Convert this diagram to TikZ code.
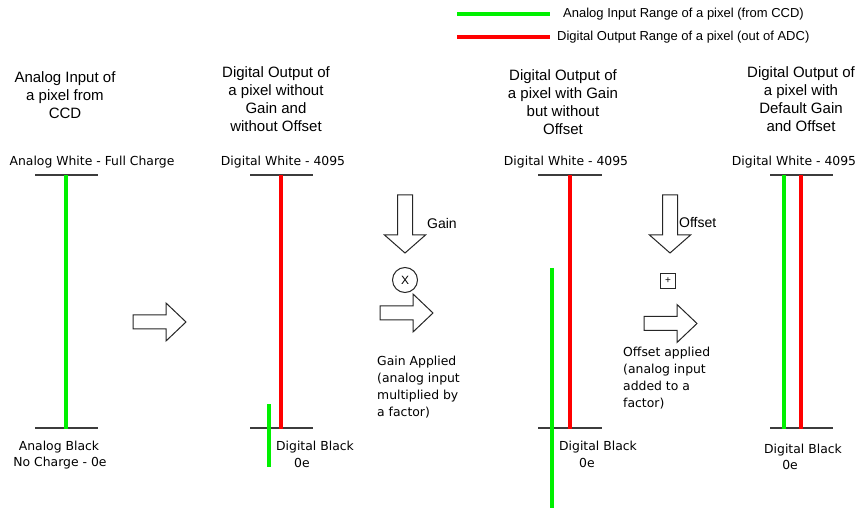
\documentclass[tikz,border=0pt]{standalone}
\usepackage{fontspec}
\setmainfont{Liberation Sans}
\newfontfamily\lblfont{DejaVu Sans}
\definecolor{pxgreen}{RGB}{0,240,0}
\definecolor{pxred}{RGB}{255,0,0}
\definecolor{bargray}{RGB}{60,60,60}
\begin{document}
\begin{tikzpicture}[x=1pt,y=-1pt,
  title/.style={font=\fontsize{15}{18}\selectfont, align=center, inner sep=0pt},
  lbl/.style={font=\lblfont\fontsize{12.4}{16}\selectfont, inner sep=0pt},
  note/.style={font=\lblfont\fontsize{12.4}{17}\selectfont, inner sep=0pt, align=left, anchor=west},
  legtext/.style={font=\fontsize{13}{15}\selectfont, inner sep=0pt, anchor=west},
  opname/.style={font=\fontsize{14}{16}\selectfont, inner sep=0pt, anchor=west},
  bar/.style={draw=bargray, line width=1.4pt},
  grnline/.style={draw=pxgreen, line width=4pt},
  redline/.style={draw=pxred, line width=4pt},
  bigarrow/.style={draw=black!85, line width=1pt, fill=white, line join=miter},
  rarrow/.pic={\path[bigarrow] (-53,-7) -- (-20,-7) -- (-20,-19) -- (0,0) -- (-20,19) -- (-20,7) -- (-53,7) -- cycle;},
  darrow/.pic={\path[bigarrow] (-7.5,-58) -- (7.5,-58) -- (7.5,-18) -- (20.5,-18) -- (0,0) -- (-20.5,-18) -- (-7.5,-18) -- cycle;}
]
\useasboundingbox (0,0) rectangle (859,510);

% legend
\coordinate (lg1a) at (457,14); \coordinate (lg1b) at (550,14);
\coordinate (lg2a) at (457,37); \coordinate (lg2b) at (550,37);
\draw[grnline] (lg1a) -- (lg1b);
\draw[redline] (lg2a) -- (lg2b);
\node[legtext] (leg1) at (563,14) {Analog Input Range of a pixel (from CCD)};
\node[legtext] (leg2) at (557,37) {Digital Output Range of a pixel (out of ADC)};

% titles
\node[title] (t1) at (65,95) {Analog Input of\\a pixel from\\CCD};
\node[title] (t2) at (276,99) {Digital Output of\\a pixel without\\Gain and\\without Offset};
\node[title] (t3) at (563,102) {Digital Output of\\a pixel with Gain\\but without\\Offset};
\node[title] (t4) at (801,99) {Digital Output of\\a pixel with\\Default Gain\\and Offset};

% top labels
\node[lbl] (w1) at (92,162) {Analog White - Full Charge};
\node[lbl] (w2) at (283,162) {Digital White - 4095};
\node[lbl] (w3) at (566,162) {Digital White - 4095};
\node[lbl] (w4) at (794,162) {Digital White - 4095};

% column 1
\coordinate (b1tl) at (35,175); \coordinate (b1tr) at (98,175);
\coordinate (b1bl) at (35,428); \coordinate (b1br) at (98,428);
\coordinate (g1t) at (66,175); \coordinate (g1b) at (66,429);
\draw[bar] (b1tl) -- (b1tr);
\draw[bar] (b1bl) -- (b1br);
\draw[grnline] (g1t) -- (g1b);

% column 2
\coordinate (b2tl) at (250,175); \coordinate (b2tr) at (313,175);
\coordinate (b2bl) at (250,428); \coordinate (b2br) at (313,428);
\coordinate (r2t) at (281,175); \coordinate (r2b) at (281,429);
\coordinate (g2t) at (269,404); \coordinate (g2b) at (269,467);
\draw[bar] (b2tl) -- (b2tr);
\draw[bar] (b2bl) -- (b2br);
\draw[redline] (r2t) -- (r2b);
\draw[grnline] (g2t) -- (g2b);

% column 3
\coordinate (b3tl) at (538,175); \coordinate (b3tr) at (602,175);
\coordinate (b3bl) at (538,428); \coordinate (b3br) at (602,428);
\coordinate (r3t) at (570,175); \coordinate (r3b) at (570,429);
\coordinate (g3t) at (552,268); \coordinate (g3b) at (552,508);
\draw[bar] (b3tl) -- (b3tr);
\draw[bar] (b3bl) -- (b3br);
\draw[redline] (r3t) -- (r3b);
\draw[grnline] (g3t) -- (g3b);

% column 4
\coordinate (b4tl) at (770,175); \coordinate (b4tr) at (833,175);
\coordinate (b4bl) at (770,428); \coordinate (b4br) at (833,428);
\coordinate (g4t) at (784,175); \coordinate (g4b) at (784,429);
\coordinate (r4t) at (801,175); \coordinate (r4b) at (801,429);
\draw[bar] (b4tl) -- (b4tr);
\draw[bar] (b4bl) -- (b4br);
\draw[grnline] (g4t) -- (g4b);
\draw[redline] (r4t) -- (r4b);

% bottom labels
\node[lbl] (k1a) at (59,447) {Analog Black};
\node[lbl] (k1b) at (60,463) {No Charge - 0e};
\node[lbl] (k2a) at (315,447) {Digital Black};
\node[lbl] (k2b) at (302,463) {0e};
\node[lbl] (k3a) at (598,447) {Digital Black};
\node[lbl] (k3b) at (587,463) {0e};
\node[lbl] (k4a) at (803,450) {Digital Black};
\node[lbl] (k4b) at (790,465) {0e};

% arrows
\pic (arr1) at (186,322) {rarrow};
\pic (gaindown) at (405,253) {darrow};
\node[opname] (gainlbl) at (427,223) {Gain};
\node[circle, draw=black!85, line width=1pt, minimum size=25pt, inner sep=0pt, font=\fontsize{12}{12}\selectfont] (mul) at (405,280) {X};
\pic (gainright) at (433,313) {rarrow};
\node[note] (gainnote) at (377,387.5) {Gain Applied\\(analog input\\multiplied by\\a factor)};

\pic (offdown) at (670,253) {darrow};
\node[opname] (offlbl) at (679,223) {Offset};
\node[draw=black!85, line width=1pt, minimum size=15pt, inner sep=0pt, font=\fontsize{10}{10}\selectfont] (add) at (668,281) {+};
\pic (offright) at (697,323.5) {rarrow};
\node[note] (offnote) at (623,378.5) {Offset applied\\(analog input\\added to a\\factor)};
\end{tikzpicture}
\end{document}
